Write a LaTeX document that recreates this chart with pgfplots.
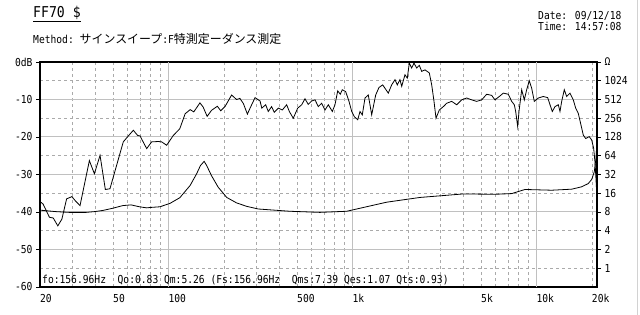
\documentclass[border=0pt]{standalone}
\usepackage{fontspec}
\setmainfont{DejaVu Sans Mono}[FakeStretch=0.88]
\newfontfamily\jp{Noto Sans CJK JP}
\usepackage{pgfplots}
\usepackage{pgfplotstable}
\pgfplotsset{compat=1.18}
\definecolor{gridsolid}{RGB}{192,192,192}
\definecolor{griddash}{RGB}{170,170,170}

\pgfplotstableread{
f db
20 -37.2
20.8 -37.9
22.5 -41.4
23.6 -41.6
25.0 -43.7
26.3 -41.9
27.9 -36.5
29.8 -35.9
31.1 -37.0
33.0 -38.3
37.1 -26.3
39.5 -29.8
42.4 -24.9
45.3 -34.0
48.0 -33.8
56.7 -21.3
60.7 -19.6
64.3 -18.2
67.9 -19.6
69.9 -19.7
76.0 -23.1
80.9 -21.3
87.9 -21.2
91.7 -21.3
97.6 -22.2
106 -19.6
115 -17.8
123 -13.8
131 -12.7
137 -13.3
148 -10.9
154 -12.0
162 -14.5
171 -12.9
184 -11.8
192 -13.0
203 -11.8
220 -8.8
234 -10.0
244 -9.7
255 -11.1
268 -13.9
279 -12.0
295 -9.5
314 -10.4
321 -12.3
337 -11.4
348 -13.2
363 -11.9
375 -13.4
395 -12.3
415 -12.8
438 -11.4
453 -13.2
476 -15.0
503 -12.3
529 -11.4
551 -9.8
574 -11.3
599 -10.4
625 -10.1
651 -11.9
679 -11.0
708 -12.8
738 -11.4
776 -13.2
802 -11.4
830 -7.7
857 -8.6
879 -7.4
917 -7.9
956 -10.5
989 -13.2
1022 -14.6
1066 -15.4
1097 -13.2
1129 -14.1
1168 -9.6
1217 -8.8
1270 -14.1
1335 -8.8
1391 -6.8
1457 -6.1
1519 -7.4
1563 -8.3
1631 -6.1
1700 -4.7
1749 -6.1
1809 -4.7
1849 -6.5
1926 -3.4
1983 -4.3
2033 -0.3
2094 -1.6
2156 -0.3
2230 -1.6
2304 -0.9
2374 -2.5
2474 -2.1
2611 -2.9
2691 -6.1
2770 -10.5
2840 -15.0
2960 -12.8
3112 -11.9
3246 -11.0
3456 -10.5
3679 -11.4
3916 -10.1
4169 -9.6
4438 -10.1
4725 -10.5
5030 -10.1
5355 -8.6
5700 -8.9
5940 -10.1
6271 -9.2
6592 -8.3
7017 -8.6
7323 -10.5
7566 -11.4
7699 -13.2
7893 -17.2
8024 -13.2
8298 -7.4
8574 -10.1
8834 -7.4
9125 -5.0
9405 -7.0
9716 -10.5
10216 -9.6
10875 -9.2
11490 -9.5
11826 -11.4
12172 -13.2
12590 -11.9
13120 -11.4
13402 -13.2
13690 -10.5
14144 -7.4
14574 -9.2
15188 -8.3
15830 -10.1
16312 -12.3
16850 -13.7
17430 -16.8
17940 -19.5
18488 -20.4
19336 -19.9
19926 -20.8
20420 -23.0
20760 -26.6
21020 -31.1
21200 -34.6
21240 -42
21270 -17
21290 -38
}\spl

\pgfplotstableread{
f ohm
20 8.57
24.4 8.11
28.9 7.89
35.6 7.89
39.5 8.11
43.8 8.46
49.7 9.19
56.3 10.13
62.5 10.41
69.3 9.71
76 9.32
79.2 9.45
89.8 9.71
101.7 11.0
115 13.55
131 21.4
142 32.9
149 44.6
156 52.0
161 44.6
171 30.7
186 20.0
207 13.7
234 11.2
266 9.85
307 8.94
457 8.22
665 7.89
929 8.22
1532 11.5
2324 13.7
3994 15.6
5940 15.4
7323 15.8
8650 18.4
12080 17.9
15510 18.6
17580 20.3
19100 22.9
19930 26.7
20580 35.3
21020 58.1
21290 108
}\imp

\begin{document}
\begin{tikzpicture}
\useasboundingbox (0,0) rectangle (640bp,315bp);
\begin{axis}[
  at={(40bp,28bp)}, anchor=south west,
  scale only axis, width=557bp, height=225bp,
  xmode=log, xmin=20, xmax=21300, ymin=-60, ymax=0,
  axis line style={line width=1.5bp},
  font=\fontsize{11}{11}\selectfont,
  xtick={20,50,100,500,1000,5000,10000,20000},
  xticklabels={20,50,100,500,1k,5k,10k,20k},
  xticklabel style={anchor=north west, xshift=-3.5bp},
  xtick style={draw=none},
  minor xtick={30,40,50,60,70,80,90,200,300,400,500,600,700,800,900,2000,3000,4000,5000,6000,7000,8000,9000,20000},
  extra x ticks={100,1000,10000}, extra x tick labels={},
  extra x tick style={grid=major, tick style={draw=none}},
  ytick={-60,-50,-40,-30,-20,-10,0},
  yticklabels={-60,-50,-40,-30,-20,-10,0dB},
  minor ytick={-55,-45,-35,-25,-15,-5},
  ytick pos=left, tick align=outside, major tick length=4bp, minor tick length=0pt,
  xmajorgrids=false, xminorgrids=true, ymajorgrids=true, yminorgrids=true,
  major grid style={gridsolid, line width=1bp, solid},
  minor grid style={griddash, line width=0.8bp, dash pattern=on 3bp off 3bp},
  ytick style={black, line width=0.8bp},
]
\addplot[black, line width=0.8bp] table[x=f, y=db] {\spl};
\end{axis}
\begin{axis}[
  at={(40bp,28bp)}, anchor=south west,
  scale only axis, width=557bp, height=225bp,
  xmode=log, xmin=20, xmax=21300,
  ymode=log, log basis y=2, ymin=0.5, ymax=2048,
  axis x line=none, axis y line*=right,
  axis line style={line width=1.5bp, -},
  font=\fontsize{11}{11}\selectfont,
  ytick={1,2,4,8,16,32,64,128,256,512,1024,2048},
  yticklabels={1,2,4,8,16,32,64,128,256,512,1024,Ω},
  yticklabel style={anchor=west},
  tick align=outside, major tick length=4bp, minor tick length=0pt,
  ytick style={black, line width=0.8bp},
]
\addplot[black, line width=0.8bp] table[x=f, y=ohm] {\imp};
\end{axis}
\draw[gray!35, line width=1bp] (637bp,0) -- (637bp,315bp);
\node[anchor=base west, inner sep=0, font=\fontsize{15}{15}\selectfont] at (33bp,297.5bp) {\underline{FF70 \$}};
\node[anchor=base west, inner sep=0, font=\fontsize{11}{11}\selectfont] at (33bp,271.5bp) {Method:\ {\jp\fontsize{12}{12}\selectfont サインスイープ}:F{\jp\fontsize{12}{12}\selectfont 特測定ーダンス測定}};
\node[anchor=base west, inner sep=0, font=\fontsize{11}{11}\selectfont] at (538bp,295.5bp) {Date: 09/12/18};
\node[anchor=base west, inner sep=0, font=\fontsize{11}{11}\selectfont] at (538bp,284bp) {Time: 14:57:08};
\node[anchor=base west, inner sep=0, font=\fontsize{11}{11}\selectfont] at (42bp,32bp) {fo:156.96Hz\ \ Qo:0.83 Qm:5.26 (Fs:156.96Hz\ \ Qms:7.39 Qes:1.07 Qts:0.93)};
\end{tikzpicture}
\end{document}
